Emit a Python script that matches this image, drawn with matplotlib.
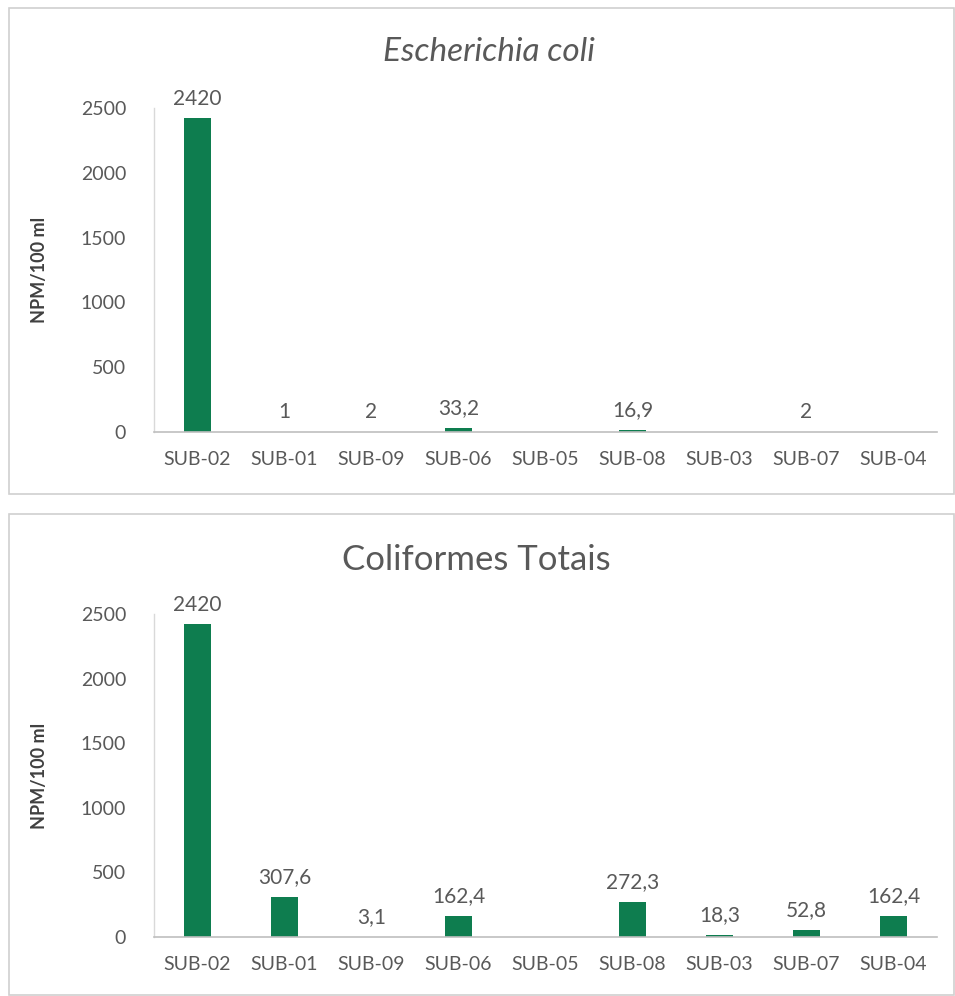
import numpy as np
import matplotlib
matplotlib.use("Agg")
import matplotlib.pyplot as plt
from matplotlib.patches import Rectangle

categories = ["SUB-02", "SUB-01", "SUB-09", "SUB-06", "SUB-05", "SUB-08", "SUB-03", "SUB-07", "SUB-04"]
ecoli = [2420, 1, 2, 33.2, np.nan, 16.9, np.nan, 2, np.nan]
coliformes = [2420, 307.6, 3.1, 162.4, np.nan, 272.3, 18.3, 52.8, 162.4]
titles = ["Escherichia coli", "Coliformes Totais"]
yticks = [0, 500, 1000, 1500, 2000, 2500]

plt.rcParams['font.family'] = ['Lato', 'DejaVu Sans']
W, H = 955, 996
fig = plt.figure(figsize=(W / 100, H / 100), dpi=100)

green = "#0E7D4F"
gray_txt = "#595959"

def fx(px):
    return px / W

def fy(py):
    return 1 - py / H

# panel borders
for (y0, y1) in [(8, 494), (514, 995)]:
    fig.patches.append(Rectangle((fx(9), fy(y1)), fx(945), (y1 - y0) / H,
                                 transform=fig.transFigure, fill=False,
                                 edgecolor="#D0D0D0", linewidth=1.2))

panels = [
    (ecoli, titles[0], 432, 108, True, 52, 489, 24),
    (coliformes, titles[1], 937, 614, False, 560, 476, 25),
]

def fmt(v):
    if float(v).is_integer():
        return str(int(v))
    return f"{v:.1f}".replace(".", ",")

for vals, title, base, top, italic, title_y, title_x, tsize in panels:
    ax = fig.add_axes([fx(154), fy(base), fx(937 - 154), (base - top) / H])
    x = np.arange(len(categories))
    v = np.array(vals, dtype=float)
    ax.bar(x, np.nan_to_num(v), width=0.3, color=green)
    for xi, vi in zip(x, v):
        if np.isnan(vi):
            continue
        ax.annotate(fmt(vi), (xi, vi), xytext=(0, 7), textcoords="offset points",
                    ha="center", va="bottom", fontsize=15, color=gray_txt,
                    annotation_clip=False)
    ax.set_xlim(-0.5, len(categories) - 0.5)
    ax.set_ylim(0, 2500)
    ax.set_yticks(yticks)
    ax.set_xticks(x)
    ax.set_xticklabels(categories)
    ax.tick_params(axis="both", length=0, labelsize=14, labelcolor=gray_txt)
    ax.tick_params(axis="y", pad=20)
    ax.tick_params(axis="x", pad=14)
    for s in ["top", "right"]:
        ax.spines[s].set_visible(False)
    ax.spines["left"].set_color("#D9D9D9")
    ax.spines["bottom"].set_color("#BFBFBF")
    ax.spines["left"].set_linewidth(1.0)
    ax.spines["bottom"].set_linewidth(1.2)
    ax.set_ylabel("NPM/100 ml", fontsize=13, color="#404040", fontweight="bold", labelpad=24)
    ax.patch.set_alpha(0)
    fig.text(fx(title_x), fy(title_y), title, ha="center", va="center", fontsize=tsize,
             color=gray_txt, style="italic" if italic else "normal")

fig.savefig("out.png", dpi=100)
